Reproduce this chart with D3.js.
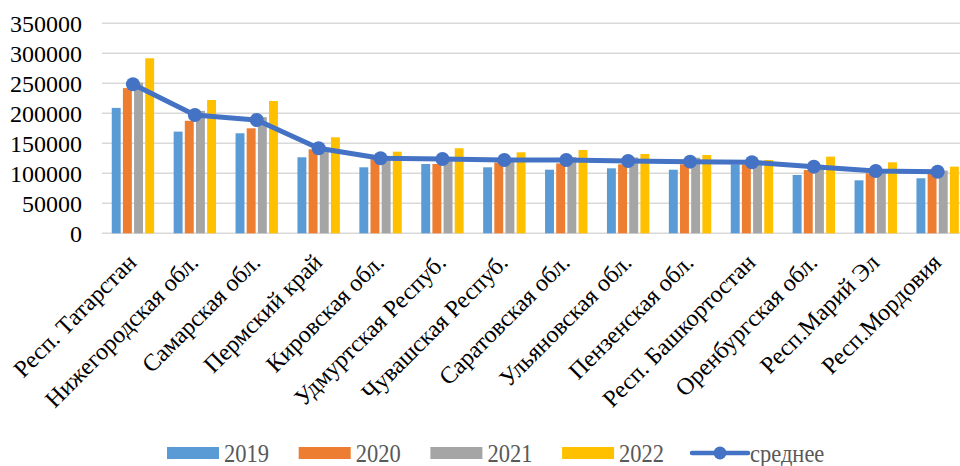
<!DOCTYPE html>
<html>
<head>
<meta charset="utf-8">
<script src="https://cdn.jsdelivr.net/npm/d3@7"></script>
<style>
  html, body { margin: 0; padding: 0; background: #fff; }
  svg { display: block; }
</style>
</head>
<body>
<div id="chart"></div>
<script>
const categories = ["Респ. Татарстан", "Нижегородская обл.", "Самарская обл.", "Пермский край",
  "Кировская обл.", "Удмуртская Респуб.", "Чувашская Респуб.", "Саратовская обл.",
  "Ульяновская обл.", "Пензенская обл.", "Респ. Башкортостан", "Оренбургская обл.",
  "Респ.Марий Эл", "Респ.Мордовия"];
const years = ["2019", "2020", "2021", "2022"];
const v2019 = [209000, 169500, 166700, 126700, 110000, 115500, 110000, 106000, 108300, 106000, 115000, 97200, 88300, 91700];
const v2020 = [242000, 187500, 175000, 140000, 125000, 115500, 118000, 116500, 115000, 115000, 115000, 105500, 100000, 100000];
const v2021 = [251000, 204000, 193500, 140000, 129000, 123000, 125500, 127000, 126500, 126000, 121000, 114000, 107000, 104500];
const v2022 = [291700, 222200, 220500, 160000, 136000, 141700, 135000, 138900, 132200, 130500, 122200, 127800, 118300, 111100];
const avgValues = [248300, 197200, 188900, 141700, 125000, 123900, 122200, 122200, 120500, 119400, 118300, 111100, 103900, 102700];
const avgLabel = "среднее";
const yTicks = [0, 50000, 100000, 150000, 200000, 250000, 300000, 350000];

const seriesValues = [v2019, v2020, v2021, v2022];
const colors = ["#5b9bd5", "#ed7d31", "#a5a5a5", "#ffc000"];
const lineColor = "#4472c4";

const W = 960, H = 466;
const svg = d3.select("#chart").append("svg").attr("width", W).attr("height", H);

const x0 = d3.scaleBand().domain(categories).range([102, 968.6]).padding(0);
const x1 = d3.scaleBand().domain(years).range([-21.2, 21.2]).paddingInner(0.2).paddingOuter(0);
const y = d3.scaleLinear().domain([0, 350000]).range([233.3, 23.3]);

// gridlines
svg.append("g").selectAll("line").data(yTicks).join("line")
  .attr("x1", 102).attr("x2", W)
  .attr("y1", d => y(d)).attr("y2", d => y(d))
  .attr("stroke", "#d9d9d9").attr("stroke-width", 1.6);

// y axis labels
const yAxis = d3.axisLeft(y).tickValues(yTicks).tickSize(0).tickPadding(0).tickFormat(d3.format("d"));
const gy = svg.append("g").attr("transform", "translate(82,0)").call(yAxis);
gy.select(".domain").remove();
gy.selectAll("text")
  .attr("font-family", "'Liberation Serif', 'Times New Roman', serif")
  .attr("font-size", 24).attr("fill", "#000").attr("dy", "0.35em");

// bars
const groups = svg.append("g").selectAll("g").data(categories).join("g")
  .attr("transform", d => `translate(${x0(d) + x0.bandwidth() / 2},0)`);
groups.selectAll("rect")
  .data((c, i) => years.map((yr, k) => ({ yr, k, v: seriesValues[k][i] })))
  .join("rect")
  .attr("x", d => x1(d.yr))
  .attr("width", x1.bandwidth())
  .attr("y", d => y(d.v))
  .attr("height", d => y(0) - y(d.v))
  .attr("fill", d => colors[d.k]);

// average line
const cx = i => x0(categories[i]) + x0.bandwidth() / 2;
const line = d3.line().x((d, i) => cx(i)).y(d => y(d));
svg.append("path").datum(avgValues)
  .attr("d", line).attr("fill", "none")
  .attr("stroke", lineColor).attr("stroke-width", 5).attr("stroke-linejoin", "round");
svg.append("g").selectAll("circle").data(avgValues).join("circle")
  .attr("cx", (d, i) => cx(i)).attr("cy", d => y(d)).attr("r", 7)
  .attr("fill", lineColor);

// x labels
const xAxis = d3.axisBottom(x0).tickSize(0).tickPadding(0);
const gx = svg.append("g").attr("transform", "translate(0,0)").call(xAxis);
gx.select(".domain").remove();
gx.selectAll(".tick").attr("transform", d => `translate(${x0(d) + x0.bandwidth() / 2 - 1},258)`);
gx.selectAll("text")
  .attr("y", 0).attr("x", 0).attr("dy", "0.35em")
  .attr("transform", "rotate(-45)")
  .attr("text-anchor", "end")
  .attr("font-family", "'Liberation Serif', 'Times New Roman', serif")
  .attr("font-size", 24).attr("fill", "#000");

// legend
const legend = svg.append("g");
const legendFont = "'Liberation Serif', 'Times New Roman', serif";
years.forEach((yr, k) => {
  const lx = 167 + k * 131.7;
  legend.append("rect").attr("x", lx).attr("y", 447).attr("width", 52).attr("height", 12).attr("fill", colors[k]);
  legend.append("text").attr("transform", `translate(${lx + 57},461.5) scale(0.9,1)`)
    .attr("font-family", legendFont).attr("font-size", 25).attr("fill", "#595959").text(yr);
});
legend.append("line").attr("x1", 692).attr("x2", 748).attr("y1", 453).attr("y2", 453)
  .attr("stroke", lineColor).attr("stroke-width", 4.5).attr("stroke-linecap", "round");
legend.append("circle").attr("cx", 720).attr("cy", 453).attr("r", 6.5).attr("fill", lineColor);
legend.append("text").attr("transform", "translate(750,461.5) scale(0.9,1)")
  .attr("font-family", legendFont).attr("font-size", 25).attr("fill", "#595959").text(avgLabel);
</script>
</body>
</html>
